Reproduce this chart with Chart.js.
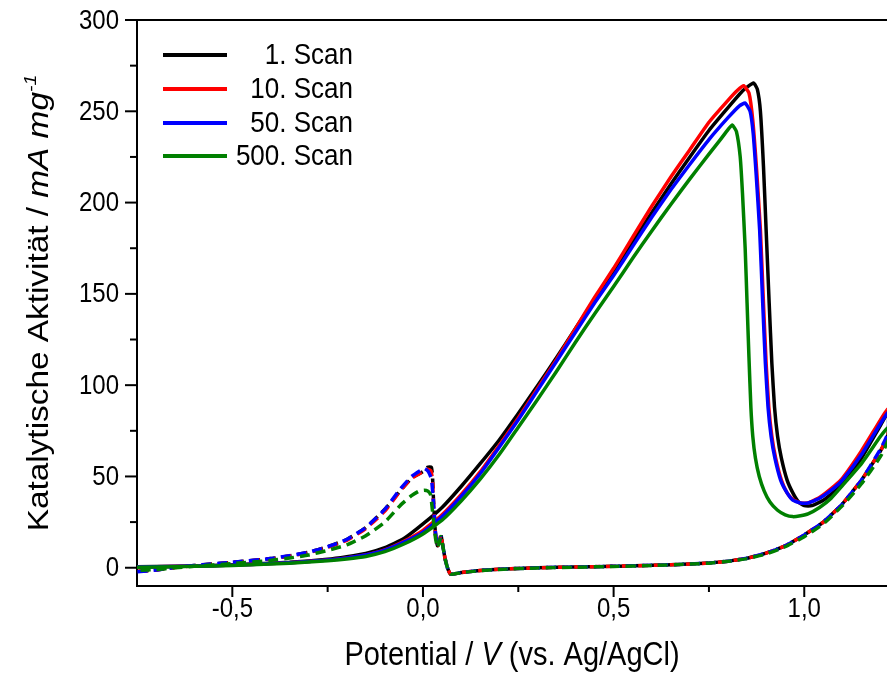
<!DOCTYPE html>
<html lang="de">
<head>
  <meta charset="UTF-8" />
  <title>Katalytische Aktivität</title>
  <script src="https://cdn.jsdelivr.net/npm/chart.js"></script>
  <style>
    body { margin: 0; background: #fff; }
    #wrap { width: 887px; height: 674px; position: relative; }
  </style>
</head>
<body>
  <div id="wrap"><canvas id="cv"></canvas></div>

  <script>
    // Werte: [Potential / V, Aktivität / mA mg^-1]
    const scanNames = ["1. Scan", "10. Scan", "50. Scan", "500. Scan"];

    // Hinlauf (durchgezogen)
    const scan1Fwd = [[-0.75,0.5],[-0.65,0.8],[-0.55,1.2],[-0.45,2],[-0.35,3],[-0.25,4.6],[-0.2,6],[-0.15,7.8],[-0.1,11],[-0.05,16],[0,24],[0.05,33],[0.1,44.5],[0.15,57],[0.2,70],[0.25,84.5],[0.3,99.5],[0.35,115],[0.4,131],[0.45,147],[0.5,162.5],[0.55,178.5],[0.6,194.5],[0.65,210],[0.7,225],[0.75,239.5],[0.8,252],[0.84,261.5],[0.867,265.5],[0.877,262],[0.885,250],[0.893,220],[0.9,185],[0.908,145],[0.915,112],[0.922,88],[0.93,72],[0.94,60],[0.955,48],[0.97,41],[0.985,36],[1.0,34],[1.02,34],[1.05,37],[1.08,42],[1.1,46],[1.15,60],[1.2,78],[1.22,85]];
    const scan10Fwd = [[-0.75,0.4],[-0.65,0.7],[-0.55,1.1],[-0.45,1.8],[-0.35,2.8],[-0.25,4.2],[-0.2,5.4],[-0.15,7],[-0.1,9.8],[-0.05,14.5],[0,20.5],[0.05,29],[0.1,40],[0.15,52.5],[0.2,67],[0.25,82],[0.3,98],[0.35,114],[0.4,131],[0.45,148],[0.5,164],[0.55,181],[0.6,198],[0.65,214],[0.7,229],[0.75,244],[0.8,256],[0.825,261.5],[0.841,264],[0.855,260],[0.865,245],[0.875,218],[0.885,185],[0.893,145],[0.9,112],[0.907,88],[0.915,72],[0.925,60],[0.94,48],[0.955,41],[0.97,37.5],[0.99,35.5],[1.01,35.5],[1.04,38.5],[1.08,45],[1.1,49],[1.15,64],[1.2,81],[1.22,87]];
    const scan50Fwd = [[-0.75,0.4],[-0.65,0.7],[-0.55,1.1],[-0.45,1.8],[-0.35,2.8],[-0.25,4.2],[-0.2,5.4],[-0.15,7],[-0.1,9.6],[-0.05,14],[0,19.5],[0.05,28],[0.1,39],[0.15,51.5],[0.2,66],[0.25,81],[0.3,97],[0.35,113],[0.4,129],[0.45,145],[0.5,160],[0.55,176],[0.6,192],[0.65,207],[0.7,221],[0.75,234.5],[0.8,246.5],[0.83,253],[0.845,254.5],[0.858,250],[0.866,238],[0.874,215],[0.883,185],[0.891,145],[0.898,112],[0.905,88],[0.913,72],[0.923,60],[0.938,48],[0.955,41],[0.97,37],[0.99,35.5],[1.01,35.5],[1.04,38],[1.08,44],[1.1,48],[1.15,62],[1.2,79],[1.22,85]];
    const scan500Fwd = [[-0.75,0.3],[-0.65,0.6],[-0.55,1],[-0.45,1.6],[-0.35,2.5],[-0.25,3.8],[-0.2,4.8],[-0.15,6.2],[-0.1,8.8],[-0.05,13],[0,18.5],[0.05,26],[0.1,36.5],[0.15,48.5],[0.2,62],[0.25,77],[0.3,92],[0.35,107.5],[0.4,123.5],[0.45,139],[0.5,154],[0.55,169.5],[0.6,184.5],[0.65,199],[0.7,213],[0.75,226.5],[0.78,234.5],[0.8,240],[0.811,242.5],[0.822,239],[0.832,225],[0.838,205],[0.845,175],[0.85,145],[0.855,115],[0.86,88],[0.865,72],[0.872,60],[0.882,50],[0.895,42],[0.91,36],[0.93,31.5],[0.95,29],[0.97,28],[0.99,28.5],[1.01,29.5],[1.04,33],[1.07,38],[1.1,45],[1.15,57],[1.2,72],[1.22,77]];

    // Rücklauf (gestrichelt)
    const scan1Rev = [[1.22,73],[1.2,64],[1.15,48],[1.1,35],[1.05,25],[1.0,18],[0.95,12],[0.9,8],[0.85,5.2],[0.8,3.6],[0.75,2.6],[0.7,2],[0.6,1.3],[0.5,0.8],[0.4,0.4],[0.3,0],[0.2,-0.8],[0.15,-1.5],[0.1,-2.6],[0.08,-3.5],[0.072,-3.5],[0.065,-0.5],[0.058,5],[0.052,12],[0.047,18],[0.043,15],[0.038,12],[0.033,18],[0.03,28],[0.027,40],[0.025,50],[0.022,55],[0.012,55],[0.003,53],[-0.03,49],[-0.06,42],[-0.1,32],[-0.15,22],[-0.2,15.5],[-0.25,11.5],[-0.3,8.5],[-0.35,6.5],[-0.4,5],[-0.5,3],[-0.6,1.2],[-0.65,0.2],[-0.7,-1.2],[-0.75,-2]];
    const scan10Rev = [[1.22,73],[1.2,64],[1.15,48],[1.1,35],[1.05,25],[1.0,18],[0.95,12],[0.9,8],[0.85,5.2],[0.8,3.6],[0.75,2.6],[0.7,2],[0.6,1.3],[0.5,0.8],[0.4,0.4],[0.3,0],[0.2,-0.8],[0.15,-1.5],[0.1,-2.6],[0.08,-3.5],[0.072,-3.5],[0.065,-0.5],[0.058,5],[0.052,12],[0.047,18],[0.043,15],[0.038,12],[0.033,18],[0.03,27],[0.027,38],[0.025,48],[0.021,53],[0.012,54],[0.003,53],[-0.03,49],[-0.06,42],[-0.1,31],[-0.15,21.5],[-0.2,15],[-0.25,11.2],[-0.3,8.3],[-0.35,6.4],[-0.4,4.9],[-0.5,2.9],[-0.6,1.1],[-0.65,0.1],[-0.7,-1.2],[-0.75,-2]];
    const scan50Rev = [[1.22,74],[1.2,65],[1.15,48],[1.1,35],[1.05,25],[1.0,18],[0.95,12],[0.9,8],[0.85,5.2],[0.8,3.6],[0.75,2.6],[0.7,2],[0.6,1.3],[0.5,0.8],[0.4,0.4],[0.3,0],[0.2,-0.8],[0.15,-1.5],[0.1,-2.6],[0.08,-3.5],[0.072,-3.5],[0.065,-0.5],[0.058,5],[0.052,12],[0.047,17],[0.043,14],[0.038,12],[0.033,19],[0.03,28],[0.026,40],[0.022,49],[0.013,53],[0.003,54.4],[-0.03,50],[-0.06,43],[-0.1,32],[-0.15,22],[-0.2,15.5],[-0.25,11.5],[-0.3,8.5],[-0.35,6.6],[-0.4,5],[-0.5,3],[-0.6,1.2],[-0.65,0.2],[-0.7,-1.3],[-0.75,-2.2]];
    const scan500Rev = [[1.22,70],[1.2,61],[1.15,46],[1.1,34],[1.05,24],[1.0,17],[0.95,11.5],[0.9,7.5],[0.85,5],[0.8,3.5],[0.75,2.5],[0.7,2],[0.6,1.2],[0.5,0.7],[0.4,0.3],[0.3,-0.1],[0.2,-0.9],[0.15,-1.6],[0.1,-2.7],[0.08,-3.5],[0.072,-3.3],[0.065,-0.5],[0.058,5],[0.052,12],[0.047,17],[0.043,14],[0.038,11],[0.033,16],[0.028,25],[0.024,33],[0.02,40],[0.013,42],[0.003,42.5],[-0.01,42],[-0.03,39.5],[-0.06,34],[-0.1,25],[-0.15,17.5],[-0.2,12.5],[-0.25,9.5],[-0.3,7],[-0.35,5.3],[-0.4,4],[-0.5,2.3],[-0.6,0.8],[-0.65,0],[-0.7,-1],[-0.75,-1.5]];

    const fwdData = [scan1Fwd, scan10Fwd, scan50Fwd, scan500Fwd];
    const revData = [scan1Rev, scan10Rev, scan50Rev, scan500Rev];

    // Achsen
    const xMin = -0.75, xMax = 1.217;
    const yMin = -10, yMax = 300;
    const xTickValues = [-0.5, -0.25, 0, 0.25, 0.5, 0.75, 1.0];
    const xMajorValues = [-0.5, 0, 0.5, 1.0];
    const xTickLabels = ["-0,5", "0,0", "0,5", "1,0"];
    const yTickValues = [0, 25, 50, 75, 100, 125, 150, 175, 200, 225, 250, 275, 300];
    const yMajorValues = [0, 50, 100, 150, 200, 250, 300];
    const yTickLabels = ["0", "50", "100", "150", "200", "250", "300"];

    const colors = ["#000000", "#ff0000", "#0000ff", "#008000"];
    const dashOffsets = [0, 0, 8, 4];
    const FONT = "'Liberation Sans', Arial, sans-serif";
    const SY = 1.15; // Schrift im Original leicht hochgezogen

    const datasets = scanNames.map((name, i) => {
      const fwd = fwdData[i];
      const pts = fwd.concat(revData[i]).map(p => ({ x: p[0], y: p[1] }));
      return {
        label: name,
        data: pts,
        showLine: true,
        borderColor: colors[i],
        borderWidth: 3.5,
        pointRadius: 0,
        tension: 0.15,
        borderDashOffset: dashOffsets[i],
        order: 4 - i,
        segment: {
          borderDash: ctx => ctx.p0DataIndex >= fwd.length - 1 ? [10, 6] : undefined
        }
      };
    });

    function stretchText(ctx, text, x, y) {
      ctx.save();
      ctx.translate(x, y);
      ctx.scale(1, SY);
      ctx.fillText(text, 0, 0);
      ctx.restore();
    }

    function drawParts(ctx, parts) {
      ctx.textAlign = "left";
      ctx.textBaseline = "alphabetic";
      let total = 0;
      parts.forEach(p => { ctx.font = p.f; p.w = ctx.measureText(p.t).width; total += p.w; });
      let x = -total / 2;
      parts.forEach(p => {
        ctx.font = p.f;
        ctx.fillText(p.t, x, p.dy || 0);
        x += p.w;
      });
    }

    // Ticks, Achsentitel, Rahmen und Legende selbst zeichnen
    const decorations = {
      id: "decorations",
      afterDraw(chart) {
        const ctx = chart.ctx;
        const area = chart.chartArea;
        const xs = chart.scales.x, ys = chart.scales.y;
        ctx.save();
        ctx.strokeStyle = "#000";
        ctx.fillStyle = "#000";
        ctx.lineWidth = 2;

        // oberer Rahmen
        ctx.beginPath();
        ctx.moveTo(area.left - 1, area.top);
        ctx.lineTo(area.right, area.top);
        ctx.stroke();

        // x-Ticks
        ctx.font = "24px " + FONT;
        ctx.textAlign = "center";
        ctx.textBaseline = "middle";
        xTickValues.forEach(v => {
          const px = xs.getPixelForValue(v);
          const k = xMajorValues.indexOf(v);
          ctx.beginPath();
          ctx.moveTo(px, area.bottom);
          ctx.lineTo(px, area.bottom + (k >= 0 ? 11 : 6));
          ctx.stroke();
          if (k >= 0) stretchText(ctx, xTickLabels[k], px, area.bottom + 23);
        });

        // y-Ticks
        ctx.textAlign = "right";
        yTickValues.forEach(v => {
          const py = ys.getPixelForValue(v);
          const k = yMajorValues.indexOf(v);
          ctx.beginPath();
          ctx.moveTo(area.left, py);
          ctx.lineTo(area.left - (k >= 0 ? 12 : 7), py);
          ctx.stroke();
          if (k >= 0) stretchText(ctx, yTickLabels[k], area.left - 18, py + 1);
        });

        // x-Titel
        ctx.save();
        ctx.translate((area.left + area.right) / 2, 665);
        ctx.scale(1, SY);
        drawParts(ctx, [
          { t: "Potential / ", f: "29px " + FONT },
          { t: "V", f: "italic 29px " + FONT },
          { t: " (vs. Ag/AgCl)", f: "29px " + FONT }
        ]);
        ctx.restore();

        // y-Titel (gedreht)
        ctx.save();
        ctx.translate(48, (area.top + area.bottom) / 2);
        ctx.rotate(-Math.PI / 2);
        ctx.scale(SY, 1);
        drawParts(ctx, [
          { t: "Katalytische Aktivität / ", f: "29px " + FONT },
          { t: "mA mg", f: "italic 29px " + FONT },
          { t: "-1", f: "italic 17px " + FONT, dy: -12 }
        ]);
        ctx.restore();

        // Legende
        const legY = [55, 89, 123, 156];
        ctx.font = "26px " + FONT;
        ctx.textAlign = "right";
        ctx.textBaseline = "middle";
        scanNames.forEach((name, i) => {
          ctx.strokeStyle = colors[i];
          ctx.lineWidth = 4;
          ctx.beginPath();
          ctx.moveTo(163, legY[i]);
          ctx.lineTo(227, legY[i]);
          ctx.stroke();
          ctx.fillStyle = "#000";
          stretchText(ctx, name, 353, legY[i] + 1);
        });
        ctx.restore();
      }
    };

    new Chart(document.getElementById("cv"), {
      type: "scatter",
      data: { datasets: datasets },
      options: {
        responsive: true,
        maintainAspectRatio: false,
        animation: false,
        layout: { padding: { left: 87, top: 20, right: 0, bottom: 48 } },
        plugins: { legend: { display: false }, tooltip: { enabled: false } },
        scales: {
          x: {
            type: "linear",
            min: xMin,
            max: xMax,
            grid: { display: false },
            border: { display: true, color: "#000", width: 2 },
            ticks: { display: false },
            afterBuildTicks: s => { s.ticks = xTickValues.map(v => ({ value: v })); },
            afterFit: s => { s.height = 40; }
          },
          y: {
            min: yMin,
            max: yMax,
            grid: { display: false },
            border: { display: true, color: "#000", width: 2 },
            ticks: { display: false },
            afterBuildTicks: s => { s.ticks = yTickValues.map(v => ({ value: v })); },
            afterFit: s => { s.width = 50; }
          }
        }
      },
      plugins: [decorations]
    });
  </script>
</body>
</html>
